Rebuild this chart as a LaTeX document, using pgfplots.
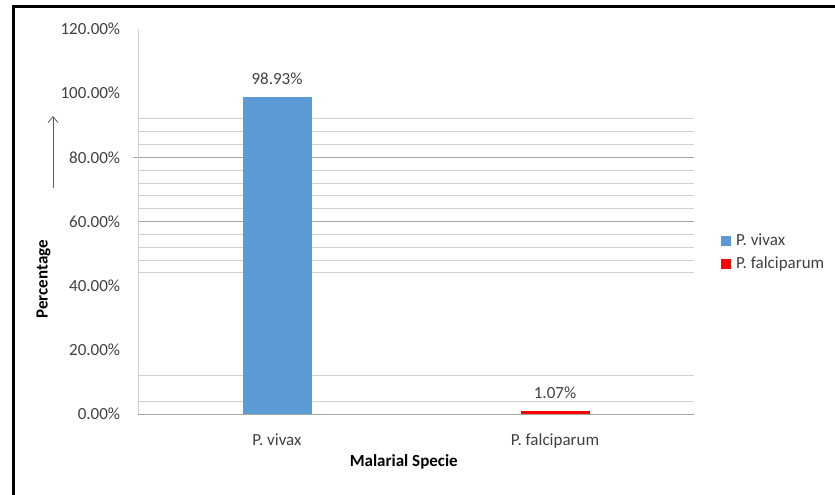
\documentclass[border=0pt]{standalone}
\usepackage{pgfplots}
\pgfplotsset{compat=1.18}
\usetikzlibrary{arrows.meta}
\usepackage{fontspec}
\setmainfont{Carlito}
\definecolor{barblue}{HTML}{5B9BD5}
\definecolor{barred}{HTML}{FF0000}
\definecolor{txt}{HTML}{404040}
\definecolor{gridl}{HTML}{D0D0D0}
\definecolor{gridd}{HTML}{A6A6A6}
\begin{document}
\fontsize{17bp}{20bp}\selectfont
\begin{tikzpicture}
\useasboundingbox (0,0) rectangle (835bp,495bp);
\draw[line width=3bp] (13.5bp,0) -- (13.5bp,488bp) -- (836bp,488bp);
\draw[-{Straight Barb[length=6bp,width=10bp]}, black!65, line width=0.8bp] (53bp,307bp) -- (53bp,379bp);
\begin{axis}[
  at={(138bp,81bp)}, anchor=south west,
  scale only axis, width=556bp, height=385bp,
  /pgf/number format/assume math mode=true,
  ybar, bar width=69bp, bar shift=0pt,
  xmin=-0.5, xmax=1.5, ymin=0, ymax=120,
  xtick={0,1}, xticklabels={P. vivax, P. falciparum},
  ytick={0,20,...,120},
  yticklabels={0.00\%,20.00\%,40.00\%,60.00\%,80.00\%,100.00\%,120.00\%},
  major tick length=0pt,
  minor ytick={0,60,80}, minor tick length=0pt,
  yminorgrids=true, minor grid style={gridd, line width=0.8bp, shorten <=-5bp},
  extra y ticks={4,12,44,48,52,56,64,68,72,76,84,88,92},
  extra y tick labels={},
  extra y tick style={grid=major, major grid style={gridl, line width=0.8bp}, major tick length=0pt},
  axis x line*=bottom, axis y line*=left,
  x axis line style={-, gridd, line width=0.8bp},
  y axis line style={-, gridl, line width=0.8bp},
  tick style={gridd, line width=0.8bp},
  ticklabel style={text=txt},
  yticklabel style={anchor=east, xshift=-12bp},
  xticklabel style={anchor=north, yshift=-14bp},
  xlabel={Malarial Specie},
  ylabel={Percentage},
  xlabel style={at={(axis description cs:0.478,-0.125)}, anchor=center, font=\bfseries},
  ylabel style={at={(axis description cs:-0.170,0.35)}, anchor=center, font=\bfseries},
  nodes near coords={\pgfmathprintnumber[fixed,fixed zerofill,precision=2]{\pgfplotspointmeta}\%},
  nodes near coords style={anchor=south, inner sep=0pt, yshift=12bp, text=txt},
  legend style={draw=none, fill=none, at={(1.0486,0.42)}, anchor=west, inner sep=0pt, outer sep=0pt, row sep=5bp, text=txt},
  legend cell align=left,
  legend image code/.code={\fill[#1] (0bp,-5bp) rectangle (10bp,5bp); \path (13bp,0bp);},
]
\addplot[fill=barblue, draw=none] coordinates {(0,98.93)};
\addplot[fill=barred, draw=none] coordinates {(1,1.07)};
\legend{P. vivax, P. falciparum}
\end{axis}
\end{tikzpicture}
\end{document}
